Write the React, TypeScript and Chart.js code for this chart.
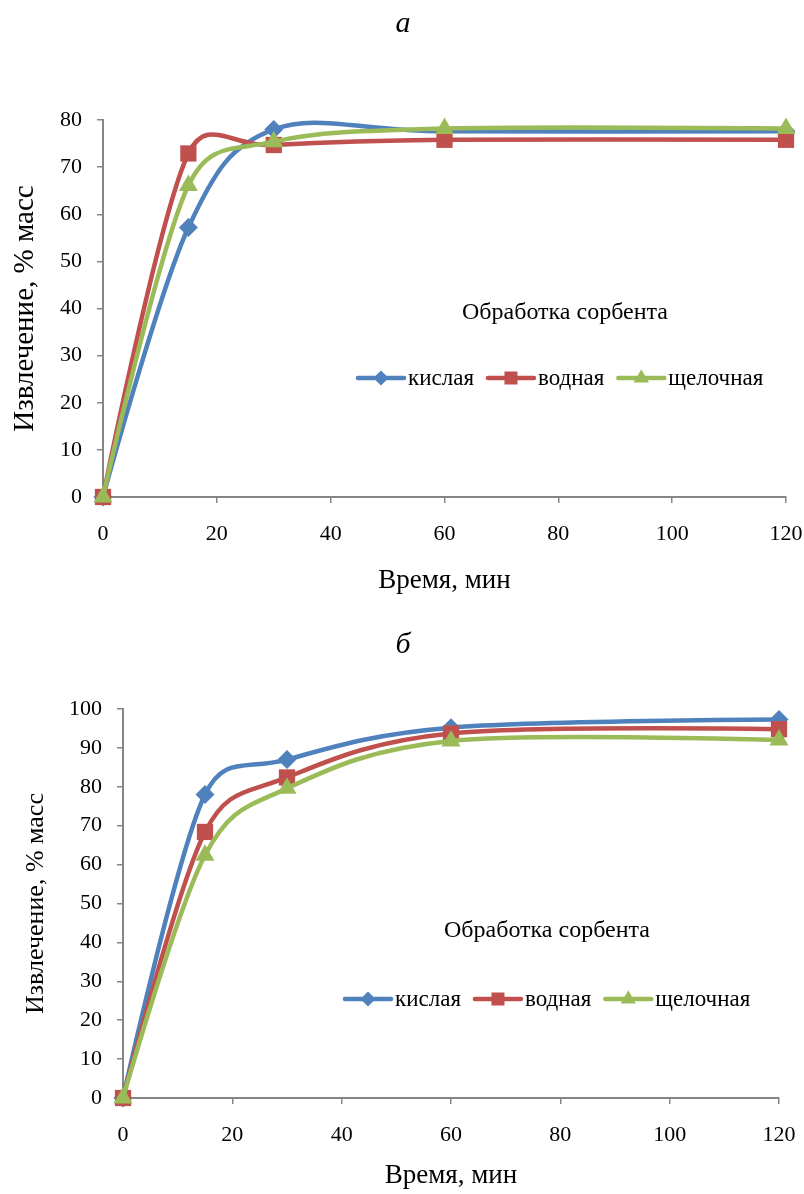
import React, { useEffect, useRef } from "react";
import { Chart, registerables } from "chart.js";

Chart.register(...registerables);

// ---------- data ----------
const SERIES_NAMES = ["кислая", "водная", "щелочная"];
const TIME_MIN = [0, 15, 30, 60, 120];

const TOP_ACID = [0, 57.2, 78.0, 77.6, 77.6];
const TOP_WATER = [0, 72.9, 74.7, 75.8, 75.8];
const TOP_ALKALI = [0, 66.1, 75.4, 78.2, 78.2];

const BOTTOM_ACID = [0, 78.0, 87.0, 95.2, 97.3];
const BOTTOM_WATER = [0, 68.4, 82.4, 93.7, 94.8];
const BOTTOM_ALKALI = [0, 62.4, 79.6, 91.8, 92.0];

const X_MAX = 120;
const X_STEP = 20;
const TOP_Y_MAX = 80;
const BOTTOM_Y_MAX = 100;
const Y_STEP = 10;

const PANEL_LETTERS = ["а", "б"];
const X_TITLE = "Время, мин";
const Y_TITLE = "Извлечение, % масс";
const LEGEND_TITLE = "Обработка сорбента";

// ---------- styles ----------
const FONT = "'Liberation Serif', 'Times New Roman', serif";
const COLORS = ["#4F81BD", "#C0504D", "#9BBB59"];
const POINT_STYLES = ["rectRot", "rect", "triangle"];
const POINT_RADII = [9.5, 11.5, 11];
const AXIS_COLOR = "#868686";

type Panel = {
  height: number;
  series: number[][];
  yMax: number;
  letter: string;
  letterY: number;
  area: { left: number; top: number; right: number; bottom: number };
  yTitleSize: number;
  yTitlePad: number;
  xTitlePad: number;
  legendTitleX: number;
  legendTitleY: number;
  legendX: number;
  legendY: number;
};

function drawMarker(ctx: CanvasRenderingContext2D, style: string, x: number, y: number, r: number) {
  ctx.beginPath();
  if (style === "rectRot") {
    ctx.moveTo(x, y - r);
    ctx.lineTo(x + r, y);
    ctx.lineTo(x, y + r);
    ctx.lineTo(x - r, y);
  } else if (style === "rect") {
    const s = r * Math.SQRT1_2;
    ctx.rect(x - s, y - s, 2 * s, 2 * s);
  } else {
    const h = r * 1.5;
    const w = (r * Math.sqrt(3)) / 2;
    ctx.moveTo(x, y - r);
    ctx.lineTo(x + w, y - r + h);
    ctx.lineTo(x - w, y - r + h);
  }
  ctx.closePath();
  ctx.fill();
}

// Excel-like smoothing: Catmull-Rom tangents (1/6 of neighbour span),
// limited to half of the adjacent segment length.
const excelSplinePlugin = {
  id: "excelSpline",
  beforeDatasetDraw(_chart: any, args: any) {
    const meta = args.meta;
    const pts = meta.data;
    const n = pts.length;
    const k = 1 / 6;
    for (let i = 0; i < n; i++) {
      const p = pts[i];
      if (i === 0 || i === n - 1) {
        p.cp1x = p.x;
        p.cp1y = p.y;
        p.cp2x = p.x;
        p.cp2y = p.y;
        continue;
      }
      const prev = pts[i - 1];
      const next = pts[i + 1];
      const dx = (next.x - prev.x) * k;
      const dy = (next.y - prev.y) * k;
      const len = Math.hypot(dx, dy);
      const dPrev = Math.hypot(p.x - prev.x, p.y - prev.y);
      const dNext = Math.hypot(next.x - p.x, next.y - p.y);
      const s1 = len > 0 ? Math.min(1, (0.5 * dPrev) / len) : 0;
      const s2 = len > 0 ? Math.min(1, (0.5 * dNext) / len) : 0;
      p.cp1x = p.x - dx * s1;
      p.cp1y = p.y - dy * s1;
      p.cp2x = p.x + dx * s2;
      p.cp2y = p.y + dy * s2;
    }
    if (meta.dataset) meta.dataset._pointsUpdated = true;
  },
};

const overlayPlugin = {
  id: "overlay",
  afterDraw(chart: any, _args: any, opts: any) {
    const ctx: CanvasRenderingContext2D = chart.ctx;
    ctx.save();
    ctx.fillStyle = "#000";
    // panel letter
    ctx.font = `italic 30px ${FONT}`;
    ctx.textAlign = "center";
    ctx.textBaseline = "alphabetic";
    ctx.fillText(opts.letter, opts.letterX, opts.letterY);
    // legend title
    ctx.font = `24px ${FONT}`;
    ctx.textBaseline = "middle";
    ctx.fillText(opts.title, opts.titleX, opts.titleY);
    // legend items
    ctx.font = `23px ${FONT}`;
    ctx.textAlign = "left";
    ctx.textBaseline = "alphabetic";
    let x = opts.legendX;
    const y = opts.legendY;
    chart.data.datasets.forEach((ds: any) => {
      ctx.strokeStyle = ds.borderColor;
      ctx.fillStyle = ds.borderColor;
      ctx.lineWidth = 4.5;
      ctx.lineCap = "round";
      ctx.beginPath();
      ctx.moveTo(x, y);
      ctx.lineTo(x + 46, y);
      ctx.stroke();
      drawMarker(ctx, ds.pointStyle, x + 23, y, ds.pointRadius * 0.8);
      ctx.fillStyle = "#000";
      ctx.fillText(ds.label, x + 50, y + 7);
      x += 50 + ctx.measureText(ds.label).width + 14;
    });
    ctx.restore();
  },
};

function buildConfig(p: Panel): any {
  const tickFont = { family: FONT, size: 22 };
  return {
    type: "line",
    data: {
      datasets: p.series.map((vals, i) => ({
        label: SERIES_NAMES[i],
        data: TIME_MIN.map((t, j) => ({ x: t, y: vals[j] })),
        borderColor: COLORS[i],
        backgroundColor: COLORS[i],
        pointBackgroundColor: COLORS[i],
        pointBorderColor: COLORS[i],
        pointStyle: POINT_STYLES[i],
        pointRadius: POINT_RADII[i],
        pointBorderWidth: 0,
        borderWidth: 4.5,
        tension: 0.4,
        clip: false,
        order: 3 - i,
      })),
    },
    options: {
      responsive: false,
      animation: false,
      events: [],
      layout: {
        padding: { left: 0, top: p.area.top, right: 804 - p.area.right, bottom: 0 },
      },
      plugins: {
        legend: { display: false },
        tooltip: { enabled: false },
        overlay: {
          letter: p.letter,
          letterX: 403,
          letterY: p.letterY,
          title: LEGEND_TITLE,
          titleX: p.legendTitleX,
          titleY: p.legendTitleY,
          legendX: p.legendX,
          legendY: p.legendY,
        },
      },
      scales: {
        x: {
          type: "linear",
          min: 0,
          max: X_MAX,
          ticks: { stepSize: X_STEP, font: tickFont, color: "#000", padding: 18, maxRotation: 0 },
          grid: { drawOnChartArea: false, tickLength: 6, color: AXIS_COLOR, lineWidth: 1.5 },
          border: { color: AXIS_COLOR, width: 2 },
          title: {
            display: true,
            text: X_TITLE,
            color: "#000",
            font: { family: FONT, size: 27 },
            padding: { top: 0, bottom: p.xTitlePad },
          },
          afterFit: (s: any) => {
            s.height = p.height - p.area.bottom;
            s.paddingLeft = 0;
            s.paddingRight = 0;
          },
        },
        y: {
          min: 0,
          max: p.yMax,
          ticks: { stepSize: Y_STEP, font: tickFont, color: "#000", padding: 15 },
          grid: { drawOnChartArea: false, tickLength: 6, color: AXIS_COLOR, lineWidth: 1.5 },
          border: { color: AXIS_COLOR, width: 2 },
          title: {
            display: true,
            text: Y_TITLE,
            color: "#000",
            font: { family: FONT, size: p.yTitleSize },
            padding: { top: p.yTitlePad, bottom: 0 },
          },
          afterFit: (s: any) => {
            s.width = p.area.left;
            s.paddingTop = 0;
            s.paddingBottom = 0;
          },
        },
      },
    },
    plugins: [excelSplinePlugin, overlayPlugin],
  };
}

function ChartPanel({ top, panel }: { top: number; panel: Panel }) {
  const ref = useRef<HTMLCanvasElement | null>(null);
  useEffect(() => {
    if (!ref.current) return;
    const chart = new Chart(ref.current, buildConfig(panel));
    return () => chart.destroy();
  }, [panel]);
  return (
    <canvas
      ref={ref}
      width={804}
      height={panel.height}
      style={{ position: "absolute", left: 0, top, width: 804, height: panel.height, display: "block" }}
    />
  );
}

const TOP_PANEL: Panel = {
  height: 610,
  series: [TOP_ACID, TOP_WATER, TOP_ALKALI],
  yMax: TOP_Y_MAX,
  letter: PANEL_LETTERS[0],
  letterY: 32,
  area: { left: 103, top: 120, right: 786, bottom: 497 },
  yTitleSize: 29,
  yTitlePad: 8,
  xTitlePad: 13,
  legendTitleX: 565,
  legendTitleY: 313,
  legendX: 358,
  legendY: 378,
};

const BOTTOM_PANEL: Panel = {
  height: 584,
  series: [BOTTOM_ACID, BOTTOM_WATER, BOTTOM_ALKALI],
  yMax: BOTTOM_Y_MAX,
  letter: PANEL_LETTERS[1],
  letterY: 43,
  area: { left: 123, top: 99, right: 779, bottom: 488 },
  yTitleSize: 26,
  yTitlePad: 21,
  xTitlePad: 2,
  legendTitleX: 547,
  legendTitleY: 321,
  legendX: 345,
  legendY: 389,
};

export default function App() {
  return (
    <div
      style={{
        position: "fixed",
        left: 0,
        top: 0,
        width: 804,
        height: 1194,
        background: "#fff",
        overflow: "hidden",
      }}
    >
      <ChartPanel top={0} panel={TOP_PANEL} />
      <ChartPanel top={610} panel={BOTTOM_PANEL} />
    </div>
  );
}
